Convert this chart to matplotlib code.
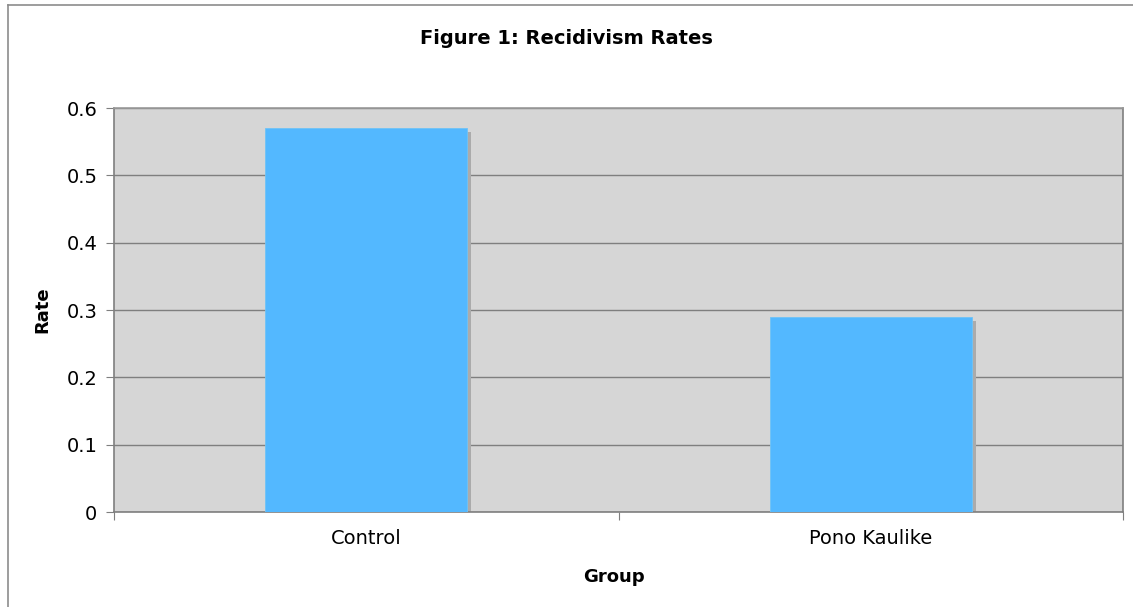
import matplotlib
matplotlib.use("Agg")
import matplotlib.pyplot as plt
from matplotlib.patches import Rectangle
from matplotlib.lines import Line2D

groups = ["Control", "Pono Kaulike"]
rates = [0.57, 0.29]
yticks = [0, 0.1, 0.2, 0.3, 0.4, 0.5, 0.6]
ytick_labels = ["0", "0.1", "0.2", "0.3", "0.4", "0.5", "0.6"]

W, H = 1133, 607
fig = plt.figure(figsize=(W / 100, H / 100), dpi=100)

# outer frame of the chart (left and top edges visible)
fig.add_artist(Line2D([8 / W, 8 / W], [0, 1 - 5 / H], color="#8c8c8c", lw=1.2))
fig.add_artist(Line2D([8 / W, 1], [1 - 5 / H, 1 - 5 / H], color="#8c8c8c", lw=1.2))

# plot area in pixels
left, right, top, bottom = 114, 1123, 108, 512
ax = fig.add_axes([left / W, 1 - bottom / H, (right - left) / W, (bottom - top) / H])
ax.set_facecolor("#d6d6d6")

x = list(range(len(groups)))
bar_w = 0.4
# shadow
for xi, r in zip(x, rates):
    ax.add_patch(Rectangle((xi - bar_w / 2 + 0.008, 0), bar_w, r - 0.006,
                           color="#ababab", zorder=2, lw=0))
ax.bar(x, rates, width=bar_w, color="#53b8ff", edgecolor="#6ec3f7",
       linewidth=0.6, zorder=3)

ax.set_xlim(-0.5, 1.5)
ax.set_ylim(0, 0.6)
ax.set_yticks(yticks)
ax.set_yticklabels(ytick_labels)
ax.yaxis.grid(True, color="#7f7f7f", lw=1.0, zorder=1)
ax.set_axisbelow(True)

# category ticks at the boundaries, labels at centres
ax.set_xticks([-0.5, 0.5, 1.5])
ax.set_xticklabels([])
ax.set_xticks(x, minor=True)
ax.set_xticklabels(groups, minor=True)
ax.tick_params(axis="x", which="minor", length=0, pad=12, labelsize=14)
ax.tick_params(axis="x", which="major", length=6, color="#7f7f7f", direction="out")
ax.tick_params(axis="y", length=6, color="#7f7f7f", labelsize=14, pad=6)

for side in ["left", "bottom", "right"]:
    ax.spines[side].set_color("#7f7f7f")
    ax.spines[side].set_linewidth(1.2)
ax.spines["top"].set_color("#9a9a9a")
ax.spines["top"].set_linewidth(1.2)

fig.text(566 / W, 1 - 38 / H, "Figure 1: Recidivism Rates", ha="center",
         va="center", fontsize=14, fontweight="bold")
fig.text(42 / W, 1 - 310 / H, "Rate", ha="center", va="center",
         rotation=90, fontsize=13, fontweight="bold")
fig.text(614 / W, 1 - 577 / H, "Group", ha="center", va="center",
         fontsize=13, fontweight="bold")

fig.savefig("out.png", dpi=100)
